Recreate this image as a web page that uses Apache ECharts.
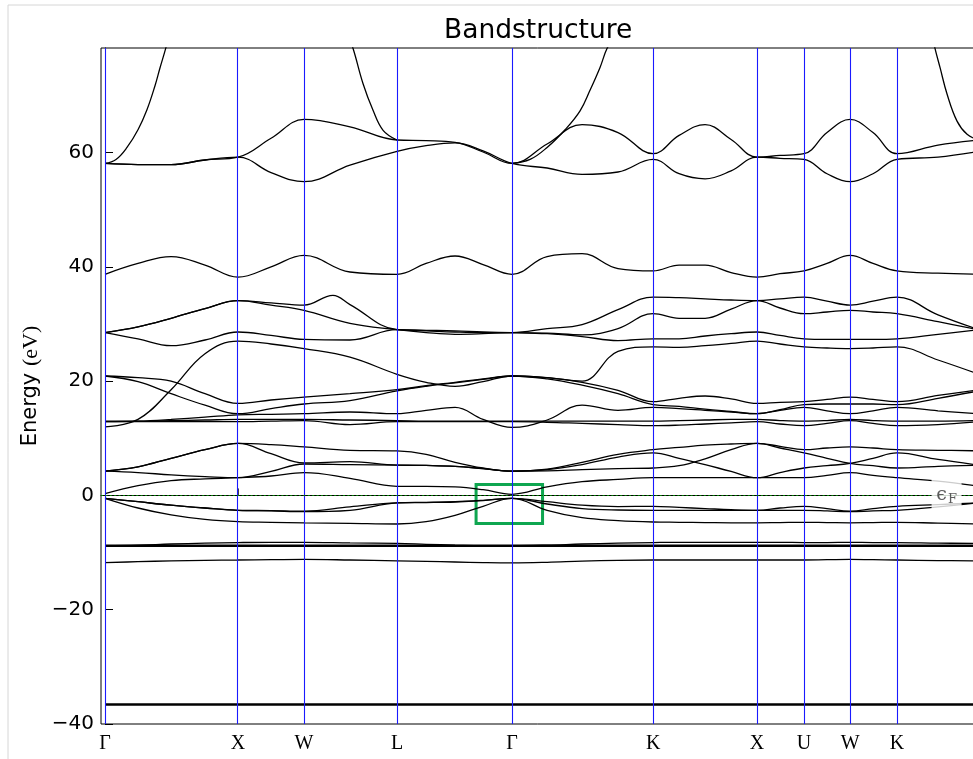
<!DOCTYPE html>
<html>
<head>
<meta charset="utf-8">
<title>Bandstructure</title>
<script src="https://cdn.jsdelivr.net/npm/echarts@6/dist/echarts.min.js"></script>
<style>
  html, body { margin: 0; padding: 0; background: #ffffff; }
  #chart { width: 973px; height: 759px; }
</style>
</head>
<body>
<div id="chart"></div>
<script>
// k-path positions of the sampled points (Γ-X-W-L-Γ-K-X-U-W-K-L)
const kPath = [0, 0.246, 0.493, 0.746, 0.993, 1.239, 1.485, 1.828, 2.179, 2.396, 2.612, 2.821,
  3.037, 3.299, 3.560, 3.828, 4.090, 4.284, 4.478, 4.672, 4.866, 5.037, 5.216, 5.388, 5.560,
  5.731, 5.910, 6.216, 6.522];

// high-symmetry points and their labels
const symK = [0, 0.993, 1.485, 2.179, 3.037, 4.090, 4.866, 5.216, 5.560, 5.910];
const symLabels = ['Γ', 'X', 'W', 'L', 'Γ', 'K', 'X', 'U', 'W', 'K'];

// energies (eV) along kPath
const bandCore  = [-36.6, -36.6, -36.6, -36.6, -36.6, -36.6, -36.6, -36.6, -36.6, -36.6, -36.6, -36.6, -36.6, -36.6, -36.6, -36.6, -36.6, -36.6, -36.6, -36.6, -36.6, -36.6, -36.6, -36.6, -36.6, -36.6, -36.6, -36.6, -36.6];
const bandSemiA = [-8.8, -8.8, -8.8, -8.8, -8.8, -8.8, -8.8, -8.8, -8.8, -8.8, -8.8, -8.8, -8.8, -8.8, -8.8, -8.8, -8.8, -8.8, -8.8, -8.8, -8.8, -8.8, -8.8, -8.8, -8.8, -8.8, -8.8, -8.8, -8.8];
const bandSemiB = [-8.8, -8.7, -8.5, -8.35, -8.25, -8.2, -8.2, -8.3, -8.4, -8.55, -8.7, -8.8, -8.8, -8.7, -8.5, -8.35, -8.25, -8.2, -8.2, -8.2, -8.2, -8.2, -8.25, -8.25, -8.2, -8.25, -8.25, -8.35, -8.4];
const bandSemiC = [-11.75, -11.6, -11.45, -11.35, -11.3, -11.25, -11.2, -11.3, -11.45, -11.55, -11.65, -11.75, -11.8, -11.7, -11.5, -11.35, -11.3, -11.3, -11.3, -11.3, -11.3, -11.3, -11.3, -11.25, -11.2, -11.25, -11.3, -11.4, -11.45];

const band1 = [-0.5, -2.2, -3.4, -4.2, -4.6, -4.7, -4.8, -4.9, -5.0, -4.6, -3.5, -1.9, -0.5, -2.6, -3.9, -4.4, -4.65, -4.7, -4.75, -4.8, -4.8, -4.75, -4.7, -4.75, -4.8, -4.75, -4.7, -4.85, -5.0];
const band2 = [-0.5, -1.1, -1.7, -2.2, -2.6, -2.7, -2.85, -2.6, -1.3, -1.2, -1.1, -0.85, -0.5, -1.5, -2.3, -2.55, -2.6, -2.6, -2.6, -2.6, -2.6, -2.6, -2.6, -2.7, -2.85, -2.7, -2.6, -2.0, -1.3];
const band3 = [-0.5, -1.1, -1.7, -2.2, -2.6, -2.65, -2.75, -2.0, -1.3, -1.25, -1.15, -0.9, -0.5, -1.1, -1.7, -1.95, -1.9, -2.1, -2.3, -2.5, -2.6, -2.2, -1.9, -2.3, -2.75, -2.3, -1.9, -1.6, -1.3];
const band4 = [0.3, 1.7, 2.6, 2.9, 3.1, 3.4, 4.0, 3.0, 1.6, 1.6, 1.5, 1.0, 0.2, 1.5, 2.4, 2.8, 3.1, 3.1, 3.1, 3.1, 3.1, 3.1, 3.1, 3.5, 4.0, 3.5, 3.1, 2.5, 1.6];
const band5 = [4.25, 4.0, 3.6, 3.3, 3.1, 4.2, 5.5, 5.4, 5.3, 5.25, 5.1, 4.7, 4.25, 4.3, 4.5, 4.7, 4.8, 5.2, 6.4, 8.0, 9.1, 8.3, 7.45, 6.5, 5.6, 5.2, 4.8, 5.1, 5.3];
const band6 = [4.25, 5.0, 6.5, 8.0, 9.1, 7.3, 5.7, 5.9, 5.3, 5.25, 5.1, 4.7, 4.25, 4.5, 5.4, 6.7, 7.45, 6.5, 5.4, 4.2, 3.1, 4.0, 4.8, 5.2, 5.6, 6.5, 7.45, 6.3, 5.3];
const band7 = [4.25, 5.0, 6.5, 8.0, 9.1, 8.9, 8.5, 7.9, 7.8, 7.2, 5.8, 4.8, 4.25, 4.6, 5.8, 7.2, 8.0, 8.4, 8.8, 9.0, 9.1, 8.6, 8.0, 8.3, 8.5, 8.3, 8.0, 7.9, 7.8];

const band8  = [12.9, 12.9, 12.9, 12.9, 12.9, 13.0, 13.1, 12.4, 12.9, 12.9, 12.9, 12.9, 12.9, 12.8, 12.6, 12.4, 12.2, 12.3, 12.5, 12.7, 12.9, 12.5, 12.2, 12.6, 13.1, 12.6, 12.2, 12.4, 12.9];
const band9  = [13.0, 13.0, 13.1, 13.2, 13.3, 13.3, 13.3, 13.2, 13.1, 13.0, 13.0, 13.0, 13.0, 13.0, 13.0, 13.0, 13.0, 13.1, 13.2, 13.3, 13.3, 13.1, 13.0, 13.1, 13.3, 13.1, 13.0, 13.0, 13.1];
const band10 = [12.9, 13.0, 13.3, 13.7, 14.1, 14.2, 14.3, 14.6, 14.3, 14.9, 15.4, 13.3, 11.9, 13.2, 15.8, 14.9, 15.4, 15.2, 14.9, 14.6, 14.3, 14.9, 15.4, 14.8, 14.3, 14.8, 15.4, 14.8, 14.3];
const band11 = [20.9, 19.9, 17.8, 15.8, 14.3, 15.2, 16.0, 16.6, 18.3, 19.1, 19.7, 20.3, 20.9, 20.4, 19.3, 17.8, 15.9, 15.6, 15.1, 14.7, 14.3, 15.0, 15.9, 16.0, 16.0, 16.0, 15.9, 17.0, 18.3];
const band12 = [20.9, 20.6, 20.0, 17.8, 16.1, 16.7, 17.2, 17.8, 18.5, 19.2, 19.8, 20.4, 20.9, 20.6, 19.8, 18.4, 16.4, 17.0, 17.4, 16.9, 16.1, 16.3, 16.4, 16.8, 17.2, 16.8, 16.4, 17.5, 18.5];
const band13 = [12.0, 13.3, 18.5, 24.8, 27.0, 26.5, 25.7, 24.2, 21.2, 19.8, 19.1, 19.9, 20.9, 20.6, 20.0, 25.2, 26.0, 25.9, 26.2, 26.6, 27.0, 26.5, 26.0, 25.8, 25.7, 25.8, 26.0, 23.7, 21.2];
const band14 = [28.5, 27.4, 26.2, 27.2, 28.6, 28.0, 27.3, 27.2, 29.0, 28.9, 28.8, 28.6, 28.5, 28.3, 27.8, 27.1, 27.4, 27.4, 27.9, 28.3, 28.6, 28.0, 27.4, 27.3, 27.3, 27.3, 27.4, 28.2, 29.0];
const band15 = [28.5, 29.5, 31.0, 32.7, 34.1, 33.3, 32.4, 30.1, 29.0, 28.5, 28.2, 28.3, 28.5, 28.4, 28.1, 29.2, 31.8, 31.0, 31.0, 32.6, 34.1, 32.8, 31.8, 32.1, 32.4, 32.1, 31.8, 30.4, 29.0];
const band17 = [38.7, 40.6, 41.8, 40.3, 38.2, 40.0, 42.0, 39.1, 38.7, 40.6, 41.9, 40.4, 38.7, 41.8, 42.3, 39.7, 39.3, 40.3, 40.3, 39.0, 38.2, 38.8, 39.3, 40.6, 42.0, 40.6, 39.3, 38.9, 38.7];
const band18 = [58.1, 57.9, 57.9, 58.7, 59.2, 56.5, 54.9, 57.8, 60.2, 61.2, 61.7, 60.3, 58.1, 57.3, 56.2, 56.6, 58.8, 56.3, 55.4, 56.8, 59.2, 59.0, 58.8, 56.3, 54.9, 56.3, 58.8, 59.2, 60.2];
const band19 = [58.1, 57.9, 57.9, 58.7, 59.2, 62.5, 65.8, 64.5, 62.2, 62.1, 61.8, 60.1, 58.1, 61.5, 64.9, 63.5, 59.8, 63.0, 64.9, 62.3, 59.2, 59.5, 59.8, 63.5, 65.8, 63.5, 59.8, 61.3, 62.2];

// band with an extra sample between W and L
const kBand16 = [0, 0.246, 0.493, 0.746, 0.993, 1.239, 1.485, 1.701, 1.828, 2.179, 2.396, 2.612, 2.821,
  3.037, 3.299, 3.560, 3.828, 4.090, 4.284, 4.478, 4.672, 4.866, 5.037, 5.216, 5.388, 5.560,
  5.731, 5.910, 6.216, 6.522];
const band16 = [28.5, 29.5, 31.0, 32.7, 34.1, 33.7, 33.3, 35.0, 33.4, 29.0, 28.8, 28.6, 28.5, 28.5, 29.2, 29.9, 32.5, 34.7, 34.6, 34.4, 34.2, 34.1, 34.4, 34.7, 34.0, 33.3, 34.0, 34.7, 31.6, 29.0];

// steep free-electron-like branches leaving the window at the top
const kSteep1 = [0, 0.082, 0.164, 0.246, 0.313, 0.373, 0.410, 0.455, 0.500];
const eSteep1 = [58.1, 58.8, 60.9, 64.0, 67.5, 71.7, 74.8, 78.4, 82.5];
const kSteep2 = [1.791, 1.851, 1.925, 2.000, 2.075, 2.179];
const eSteep2 = [82.0, 78.2, 72.1, 67.4, 63.9, 62.2];
const kSteep3 = [3.037, 3.172, 3.299, 3.433, 3.545, 3.619, 3.694, 3.746, 3.806];
const eSteep3 = [58.1, 58.8, 60.9, 64.0, 67.3, 70.9, 74.9, 78.2, 80.4];
const kSteep4 = [6.157, 6.194, 6.231, 6.284, 6.358, 6.433, 6.522];
const eSteep4 = [82.0, 78.2, 74.9, 70.2, 65.5, 63.2, 62.2];

// Fermi level, its label and the highlighted region around Γ
const fermiEnergy = 0;
const fermiLabelK = 6.280;
const boxK = [2.769, 3.265];
const boxE = [-4.9, 1.92];

const regularBands = [band1, band2, band3, band4, band5, band6, band7, band8, band9, band10,
  band11, band12, band13, band14, band15, band17, band18, band19, bandSemiB, bandSemiC];

function bandSeries(ks, es, width) {
  return {
    type: 'line',
    data: ks.map((k, i) => [k, es[i]]),
    symbol: 'none',
    showSymbol: false,
    smooth: 0.4,
    clip: true,
    silent: true,
    animation: false,
    z: 3,
    lineStyle: { color: '#000000', width: width }
  };
}

const series = [];

// vertical guides at the high-symmetry points
series.push({
  type: 'line', data: [], z: 1, silent: true, animation: false,
  markLine: {
    silent: true, animation: false, symbol: ['none', 'none'],
    label: { show: false },
    lineStyle: { color: '#1a1aff', width: 1.1, type: 'solid' },
    data: symK.map(k => ({ xAxis: k }))
  }
});

series.push(bandSeries(kPath, bandCore, 2.6));
series.push(bandSeries(kPath, bandSemiA, 2.4));
regularBands.forEach(b => series.push(bandSeries(kPath, b, 1.3)));
series.push(bandSeries(kBand16, band16, 1.3));
series.push(bandSeries(kSteep1, eSteep1, 1.3));
series.push(bandSeries(kSteep2, eSteep2, 1.3));
series.push(bandSeries(kSteep3, eSteep3, 1.3));
series.push(bandSeries(kSteep4, eSteep4, 1.3));

// Fermi level
series.push({
  type: 'line', data: [], z: 5, silent: true, animation: false,
  markLine: {
    silent: true, animation: false, symbol: ['none', 'none'],
    label: { show: false },
    lineStyle: { color: '#008000', width: 1.2, type: [2, 2.4] },
    data: [{ yAxis: fermiEnergy }]
  }
});

// ϵF label on a white patch
series.push({
  type: 'scatter', z: 10, silent: true, animation: false,
  data: [[fermiLabelK, fermiEnergy]],
  symbol: 'rect', symbolSize: [30, 42],
  itemStyle: { color: '#ffffff' },
  label: {
    show: true, position: 'inside',
    formatter: '{e|ϵ}{f|F}',
    rich: {
      e: { fontFamily: 'DejaVu Serif', fontSize: 19, color: '#333333', lineHeight: 26, verticalAlign: 'middle' },
      f: { fontFamily: 'DejaVu Serif', fontSize: 13, color: '#333333', lineHeight: 26, verticalAlign: 'bottom', padding: [0, 0, 2, 1] }
    }
  }
});

// highlighted box around the crossing at Γ
series.push({
  type: 'line', data: [], z: 12, silent: true, animation: false,
  markArea: {
    silent: true, animation: false,
    itemStyle: { color: 'rgba(0,0,0,0)', borderColor: '#0fa650', borderWidth: 3 },
    data: [[{ xAxis: boxK[0], yAxis: boxE[1] }, { xAxis: boxK[1], yAxis: boxE[0] }]]
  }
});

const chart = echarts.init(document.getElementById('chart'), null, { renderer: 'canvas' });
chart.setOption({
  animation: false,
  backgroundColor: '#ffffff',
  textStyle: { fontFamily: 'DejaVu Sans' },
  title: {
    text: 'Bandstructure', left: 444, top: 18, padding: 0,
    textStyle: { fontFamily: 'DejaVu Sans', fontSize: 26.5, fontWeight: 'normal', color: '#000000' }
  },
  graphic: [{
    type: 'rect', silent: true, z: -10,
    shape: { x: 8, y: 5, width: 1000, height: 800 },
    style: { fill: 'none', stroke: '#d6d6d6', lineWidth: 1 }
  }],
  grid: {
    left: 101, top: 48, width: 878, height: 676,
    show: true, borderColor: '#000000', borderWidth: 1,
    containLabel: false, outerBoundsMode: 'none'
  },
  xAxis: {
    type: 'value', min: -0.03, max: 6.522,
    axisLine: { show: true, lineStyle: { color: '#000000', width: 1 } },
    axisTick: { show: true, inside: true, length: 7, customValues: symK, lineStyle: { color: '#444444' } },
    axisLabel: {
      customValues: symK, margin: 10,
      fontFamily: 'Liberation Serif', fontSize: 20, color: '#000000',
      formatter: function (v) {
        let best = 0;
        symK.forEach((k, i) => { if (Math.abs(k - v) < Math.abs(symK[best] - v)) best = i; });
        return symLabels[best];
      }
    },
    splitLine: { show: false }
  },
  yAxis: {
    type: 'value', min: -40, max: 78.3, interval: 20,
    axisLine: { show: true, lineStyle: { color: '#000000', width: 1 } },
    axisTick: { show: true, inside: true, length: 8, lineStyle: { color: '#000000' } },
    axisLabel: {
      margin: 7, fontFamily: 'DejaVu Sans', fontSize: 20, color: '#000000',
      showMaxLabel: false,
      formatter: v => (v < 0 ? '\u2212' + Math.abs(v) : String(v))
    },
    splitLine: { show: false },
    name: '{a|Energy }{b|(eV)}',
    nameLocation: 'middle', nameRotate: 90, nameGap: 59, nameMoveOverlap: false,
    nameTextStyle: {
      color: '#000000',
      rich: {
        a: { fontFamily: 'DejaVu Sans', fontSize: 21, color: '#000000' },
        b: { fontFamily: 'Liberation Serif', fontSize: 22, color: '#000000' }
      }
    }
  },
  series: series
});
</script>
</body>
</html>
